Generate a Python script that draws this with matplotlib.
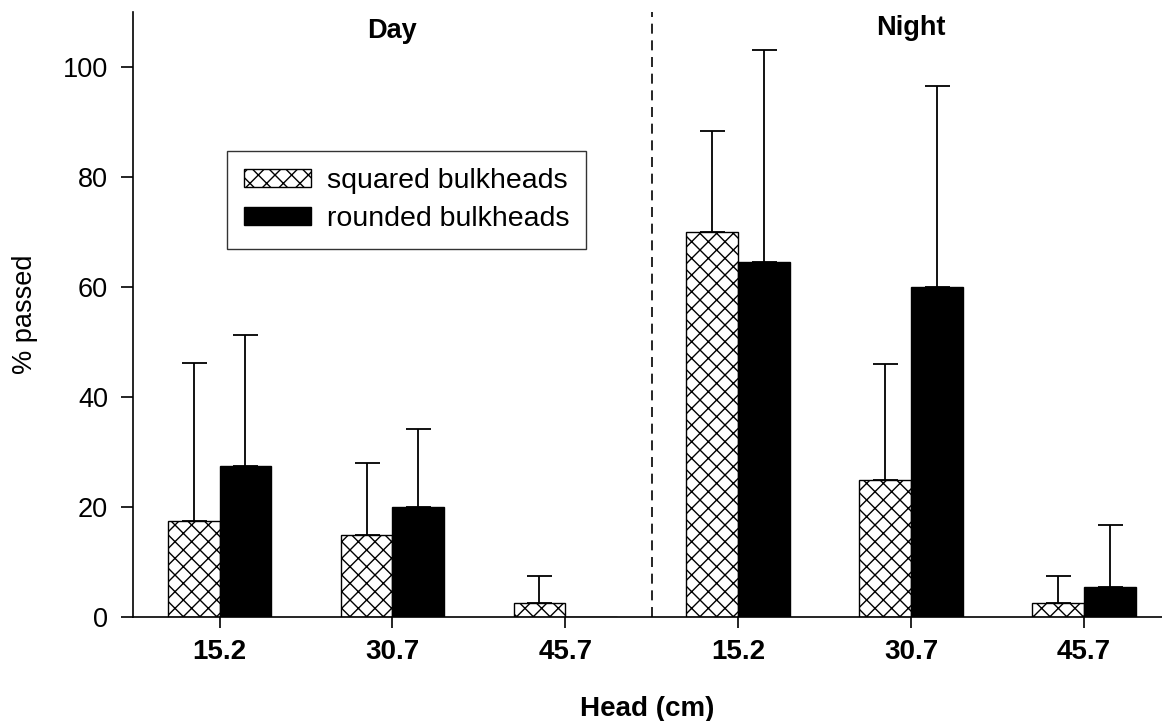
import numpy as np
import matplotlib.pyplot as plt

plt.rcParams['font.family'] = ['Liberation Sans', 'DejaVu Sans']
plt.rcParams['hatch.linewidth'] = 1.0

heads = ['15.2', '30.7', '45.7', '15.2', '30.7', '45.7']
squared = [17.5, 15, 2.5, 70, 25, 2.5]
squared_err = [28.7, 13, 5, 18.3, 21, 5]
rounded = [27.5, 20, 0, 64.5, 60, 5.5]
rounded_err = [23.7, 14.2, 0, 38.5, 36.5, 11.2]

x = np.arange(len(heads))
w = 0.30

fig = plt.figure(figsize=(11.62, 7.21), dpi=100)
ax = fig.add_axes([0.1145, 0.1442, 0.8855, 0.8392])

ax.bar(x - w / 2, squared, w, color='white', edgecolor='black', hatch='xx',
       linewidth=1, label='squared bulkheads')
ax.bar(x + w / 2, rounded, w, color='black', edgecolor='black',
       linewidth=1, label='rounded bulkheads')

# upper error bars only (no bar for the empty one)
r = np.array(rounded)
re = np.array(rounded_err)
keep = re > 0
ax.errorbar(x - w / 2, squared, yerr=[np.zeros(len(x)), squared_err],
            fmt='none', ecolor='black', elinewidth=1.3, capsize=9, capthick=1.3)
ax.errorbar(x[keep] + w / 2, r[keep], yerr=[np.zeros(keep.sum()), re[keep]],
            fmt='none', ecolor='black', elinewidth=1.3, capsize=9, capthick=1.3)

ax.axvline(2.5, color='black', linestyle=(0, (6, 4)), linewidth=1.2)

ax.set_xlim(-0.5, 5.45)
ax.set_ylim(0, 110)
ax.set_yticks([0, 20, 40, 60, 80, 100])
ax.set_xticks(x)
ax.set_xticklabels(heads, fontsize=20, fontweight='bold')
ax.tick_params(axis='y', labelsize=19.5, length=9, width=1.2, pad=9)
ax.tick_params(axis='x', length=8, width=1.2, pad=8)

for s in ['top', 'right']:
    ax.spines[s].set_visible(False)
for s in ['left', 'bottom']:
    ax.spines[s].set_linewidth(1.2)

ax.set_ylabel('% passed', fontsize=19.5, labelpad=18)
ax.set_xlabel('Head (cm)', fontsize=20, fontweight='bold', labelpad=22)

ax.text(1, 106.5, 'Day', ha='center', va='center', fontsize=19.5, fontweight='bold')
ax.text(4, 107, 'Night', ha='center', va='center', fontsize=19.5, fontweight='bold')

leg = ax.legend(loc='upper left', bbox_to_anchor=(0.0913, 0.770), fontsize=20.5,
                frameon=True, fancybox=False, edgecolor='black', borderpad=0.6,
                handlelength=2.35, handleheight=0.6, handletextpad=0.55,
                labelspacing=0.42, borderaxespad=0)
leg.get_frame().set_linewidth(1.0)

fig.savefig('out.png', dpi=100)
